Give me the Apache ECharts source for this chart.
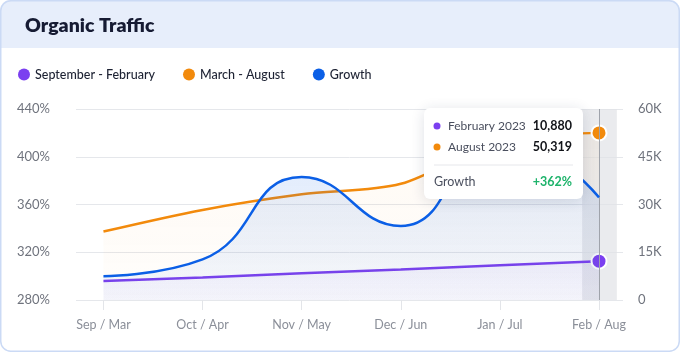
<!DOCTYPE html>
<html>
<head>
<meta charset="utf-8">
<script src="https://cdn.jsdelivr.net/npm/echarts@6/dist/echarts.min.js"></script>
<style>
  html, body { margin: 0; padding: 0; background: #fff; }
  #chart { width: 680px; height: 352px; }
</style>
</head>
<body>
<div id="chart"></div>
<script>
// chart data
const categories = ['Sep / Mar', 'Oct / Apr', 'Nov / May', 'Dec / Jun', 'Jan / Jul', 'Feb / Aug']
const sepFebValues = [6000, 7100, 8400, 9600, 10900, 12200]
const marAugValues = [21500, 28300, 33200, 36500, 50000, 52500]
const growthValues = [300, 314, 383, 342, 418, 366]
const categoryTicks = [0, 1, 2, 3, 4, 5]
const seriesNames = ['September - February', 'March - August', 'Growth']
const tooltipLabels = ['February 2023', 'August 2023']
const tooltipValues = ['10,880', '50,319']
const tooltipGrowth = '+362%'

const FONT = 'Lato, "Noto Sans", sans-serif'
const PURPLE = '#7b3ff0'
const ORANGE = '#f28a0c'
const BLUE = '#0b5fe6'
const last = categories.length - 1

function toPoints (values, color) {
  return values.map((v, i) => {
    if (i !== last || color === null) return [i, v]
    return {
      value: [i, v],
      symbol: 'circle',
      symbolSize: 15,
      itemStyle: { color: color, borderColor: '#fff', borderWidth: 2 }
    }
  })
}

function gradient (top, bottom) {
  return new echarts.graphic.LinearGradient(0, 0, 0, 1, [
    { offset: 0, color: top },
    { offset: 1, color: bottom }
  ])
}

const chart = echarts.init(document.getElementById('chart'), null, { renderer: 'canvas' })

const option = {
  animation: false,
  textStyle: { fontFamily: FONT },
  title: {
    text: 'Organic Traffic',
    left: 25,
    top: 16,
    padding: 0,
    textStyle: { fontFamily: FONT, fontSize: 19.5, fontWeight: 800, color: '#161b33' }
  },
  legend: {
    data: seriesNames,
    left: 18,
    top: 68,
    padding: 0,
    icon: 'circle',
    itemWidth: 12,
    itemHeight: 12,
    itemGap: 28,
    textStyle: { fontFamily: FONT, fontSize: 12.5, fontWeight: 500, color: '#1d2233' }
  },
  grid: { left: 76, right: 57, top: 109, bottom: 52, containLabel: false },
  xAxis: {
    type: 'value',
    min: -0.277,
    max: 5.242,
    axisLine: { show: false },
    splitLine: { show: false },
    axisTick: {
      show: true,
      customValues: categoryTicks,
      length: 10,
      lineStyle: { color: '#e3e5e9' }
    },
    axisLabel: {
      customValues: categoryTicks,
      formatter: (v) => categories[Math.round(v)],
      margin: 18,
      fontFamily: FONT,
      fontSize: 12.5,
      color: '#8b8f99'
    }
  },
  yAxis: [
    {
      type: 'value',
      position: 'left',
      min: 280,
      max: 440,
      interval: 40,
      axisLine: { show: false },
      axisTick: { show: false },
      splitLine: { lineStyle: { color: '#e5e7eb', width: 1 } },
      axisLabel: { formatter: '{value}%', margin: 26, fontFamily: FONT, fontSize: 13, color: '#6f737d' }
    },
    {
      type: 'value',
      position: 'right',
      min: 0,
      max: 60000,
      interval: 15000,
      axisLine: { show: false },
      axisTick: { show: false },
      splitLine: { show: false },
      axisLabel: {
        formatter: (v) => v === 0 ? '0' : (v / 1000) + 'K',
        margin: 15,
        fontFamily: FONT,
        fontSize: 13,
        color: '#6f737d'
      }
    }
  ],
  series: [
    {
      // hover band and pointer line on the last month
      name: 'band',
      type: 'line',
      yAxisIndex: 1,
      data: [[last, 0]],
      showSymbol: false,
      lineStyle: { opacity: 0 },
      z: 1,
      markArea: {
        silent: true,
        itemStyle: { color: 'rgba(225,227,231,0.7)' },
        data: [[{ xAxis: last - 0.17 }, { xAxis: last + 0.18 }]]
      },
      markLine: {
        silent: true,
        symbol: 'none',
        label: { show: false },
        lineStyle: { color: '#9fa3ab', width: 1, type: 'solid' },
        data: [{ xAxis: last }]
      }
    },
    {
      name: seriesNames[0],
      type: 'line',
      yAxisIndex: 1,
      data: toPoints(sepFebValues, PURPLE),
      symbol: 'none',
      smooth: false,
      itemStyle: { color: PURPLE },
      lineStyle: { color: PURPLE, width: 2.5 },
      areaStyle: { color: gradient('rgba(124,63,240,0.07)', 'rgba(124,63,240,0.03)') },
      z: 3
    },
    {
      name: seriesNames[1],
      type: 'line',
      yAxisIndex: 1,
      data: toPoints(marAugValues, ORANGE),
      symbol: 'none',
      smooth: 0.3,
      itemStyle: { color: ORANGE },
      lineStyle: { color: ORANGE, width: 2.5 },
      areaStyle: { color: gradient('rgba(242,138,12,0.07)', 'rgba(242,138,12,0.02)') },
      z: 4
    },
    {
      name: seriesNames[2],
      type: 'line',
      yAxisIndex: 0,
      data: toPoints(growthValues, null),
      symbol: 'none',
      smooth: 0.5,
      itemStyle: { color: BLUE },
      lineStyle: { color: BLUE, width: 2.5 },
      areaStyle: { color: gradient('rgba(11,95,230,0.2)', 'rgba(11,95,230,0.05)') },
      z: 5
    }
  ],
  graphic: [
    {
      type: 'rect',
      z: -1,
      shape: { x: 0, y: 0, width: 680, height: 48, r: [10, 10, 0, 0] },
      style: { fill: '#e7eefb' }
    },
    {
      type: 'rect',
      z: 50,
      silent: true,
      shape: { x: 0.75, y: 0.75, width: 678.5, height: 350.5, r: 10 },
      style: { fill: 'none', stroke: '#cbdaf5', lineWidth: 1.5 }
    },
    {
      type: 'group',
      z: 100,
      children: [
        {
          type: 'rect',
          z: 100,
          shape: { x: 424, y: 108, width: 159, height: 91, r: 6 },
          style: { fill: '#fff', shadowBlur: 14, shadowOffsetY: 2, shadowColor: 'rgba(30,40,80,0.14)' }
        },
        { type: 'circle', z: 101, shape: { cx: 437, cy: 126, r: 3.5 }, style: { fill: PURPLE } },
        {
          type: 'text', z: 101, x: 448, y: 126,
          style: { text: tooltipLabels[0], fontFamily: FONT, fontSize: 12, fill: '#4a4f5e', verticalAlign: 'middle' }
        },
        {
          type: 'text', z: 101, x: 572, y: 126,
          style: { text: tooltipValues[0], fontFamily: FONT, fontSize: 12.5, fontWeight: 700, fill: '#111318', align: 'right', verticalAlign: 'middle' }
        },
        { type: 'circle', z: 101, shape: { cx: 437, cy: 147, r: 3.5 }, style: { fill: ORANGE } },
        {
          type: 'text', z: 101, x: 448, y: 147,
          style: { text: tooltipLabels[1], fontFamily: FONT, fontSize: 12, fill: '#4a4f5e', verticalAlign: 'middle' }
        },
        {
          type: 'text', z: 101, x: 572, y: 147,
          style: { text: tooltipValues[1], fontFamily: FONT, fontSize: 12.5, fontWeight: 700, fill: '#111318', align: 'right', verticalAlign: 'middle' }
        },
        {
          type: 'line', z: 101,
          shape: { x1: 434, y1: 165, x2: 573, y2: 165 },
          style: { stroke: '#e6e7eb', lineWidth: 1 }
        },
        {
          type: 'text', z: 101, x: 434, y: 182,
          style: { text: 'Growth', fontFamily: FONT, fontSize: 12.5, fill: '#4a4f5e', verticalAlign: 'middle' }
        },
        {
          type: 'text', z: 101, x: 572, y: 182,
          style: { text: tooltipGrowth, fontFamily: FONT, fontSize: 12.5, fontWeight: 700, fill: '#1eb36b', align: 'right', verticalAlign: 'middle' }
        }
      ]
    }
  ]
}

chart.setOption(option)
</script>
</body>
</html>
